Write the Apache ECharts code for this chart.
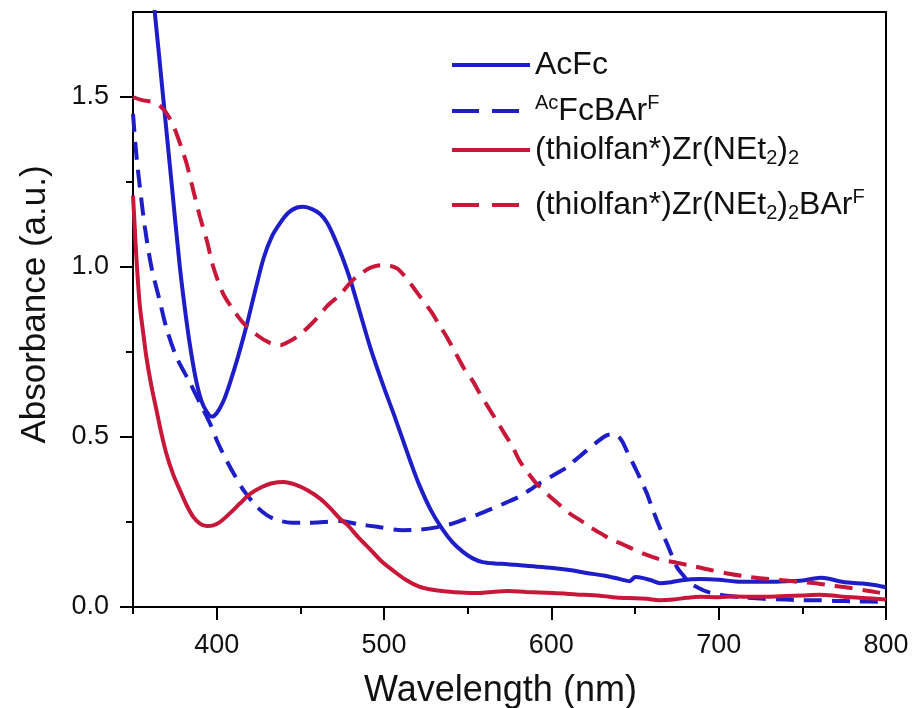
<!DOCTYPE html>
<html>
<head>
<meta charset="utf-8">
<script src="https://cdn.jsdelivr.net/npm/echarts@6/dist/echarts.min.js"></script>
<style>
  html, body { margin: 0; padding: 0; background: #fff; overflow: hidden; }
  #chart { width: 915px; height: 708px; }
</style>
</head>
<body>
<div id="chart"></div>
<script>
// UV-vis absorbance spectra (wavelength in nm, absorbance in a.u.)
const acfcWavelength = [358, 363, 368, 373, 378, 382, 385, 388, 391, 394, 397, 400, 404, 408, 413, 418, 423, 428, 433, 438, 443, 448, 452, 457, 462, 466, 470, 475, 480, 486, 492, 500, 506, 511, 516, 521, 528, 535, 541, 547, 553, 559, 566, 574, 585, 601, 612, 621, 632, 641, 647, 650, 655, 660, 665, 670, 678, 689, 700, 710, 720, 730, 740, 750, 756, 761, 766, 772, 779, 786, 793, 800];
const acfcAbs = [1.98, 1.75, 1.5, 1.25, 1.0, 0.84, 0.74, 0.66, 0.605, 0.575, 0.56, 0.57, 0.605, 0.66, 0.74, 0.83, 0.93, 1.025, 1.09, 1.13, 1.16, 1.175, 1.177, 1.17, 1.155, 1.13, 1.09, 1.03, 0.96, 0.86, 0.76, 0.645, 0.565, 0.495, 0.425, 0.36, 0.285, 0.228, 0.19, 0.163, 0.143, 0.132, 0.128, 0.126, 0.121, 0.115, 0.108, 0.1, 0.092, 0.082, 0.076, 0.088, 0.085, 0.078, 0.07, 0.072, 0.079, 0.082, 0.08, 0.075, 0.074, 0.074, 0.076, 0.078, 0.083, 0.086, 0.083, 0.076, 0.071, 0.069, 0.065, 0.058];

const acfcBarfWavelength = [350, 352, 354, 357, 361, 366, 370, 376, 384, 390, 396, 401, 406, 411, 416, 424, 430, 436, 445, 454, 464, 474, 485, 496, 511, 522, 532, 540, 547, 556, 565, 573, 581, 587, 593, 601, 609, 615, 621, 627, 633, 638, 642, 645, 648, 651, 654, 657, 660, 663, 666, 669, 672, 675, 679, 683, 688, 693, 699, 705, 715, 727, 740, 750, 760, 770, 780, 790, 800];
const acfcBarfAbs = [1.45, 1.33, 1.24, 1.12, 1.0, 0.9, 0.82, 0.735, 0.66, 0.6, 0.54, 0.48, 0.43, 0.385, 0.344, 0.295, 0.27, 0.256, 0.248, 0.248, 0.25, 0.253, 0.243, 0.236, 0.226, 0.228, 0.235, 0.244, 0.256, 0.272, 0.29, 0.307, 0.325, 0.344, 0.364, 0.387, 0.41, 0.435, 0.46, 0.484, 0.505, 0.508, 0.49, 0.46, 0.43, 0.4, 0.368, 0.335, 0.295, 0.256, 0.22, 0.188, 0.152, 0.118, 0.092, 0.07, 0.056, 0.045, 0.038, 0.033, 0.028, 0.024, 0.022, 0.02, 0.02, 0.018, 0.017, 0.016, 0.015];

const zrWavelength = [350, 351, 352, 354, 356, 358, 361, 364, 367, 370, 374, 378, 382, 386, 390, 394, 398, 402, 408, 414, 420, 427, 433, 440, 447, 454, 462, 468, 474, 478, 485, 492, 498, 505, 513, 521, 530, 541, 549, 557, 566, 574, 585, 601, 615, 629, 641, 650, 657, 665, 673, 681, 689, 700, 710, 720, 729, 740, 750, 760, 768, 775, 785, 792, 800];
const zrAbs = [1.21, 1.12, 1.03, 0.89, 0.81, 0.735, 0.65, 0.58, 0.51, 0.45, 0.39, 0.344, 0.3, 0.265, 0.245, 0.238, 0.24, 0.25, 0.276, 0.305, 0.333, 0.353, 0.364, 0.368, 0.36, 0.344, 0.318, 0.29, 0.258, 0.242, 0.203, 0.168, 0.137, 0.109, 0.08, 0.06, 0.05, 0.044, 0.042, 0.041, 0.045, 0.047, 0.044, 0.041, 0.037, 0.033, 0.027, 0.026, 0.024, 0.02, 0.022, 0.027, 0.03, 0.029, 0.031, 0.03, 0.03, 0.032, 0.034, 0.036, 0.034, 0.03, 0.027, 0.025, 0.022];

const zrBarfWavelength = [350, 356, 362, 367, 371, 375, 379, 382, 386, 390, 394, 398, 404, 410, 416, 424, 432, 438, 443, 448, 454, 460, 466, 474, 480, 486, 492, 498, 504, 508, 512, 516, 522, 528, 533, 538, 543, 548, 553, 557, 562, 567, 572, 577, 581, 586, 591, 598, 605, 611, 617, 623, 629, 637, 641, 649, 657, 665, 675, 685, 695, 707, 719, 729, 738, 748, 759, 769, 779, 787, 795, 800];
const zrBarfAbs = [1.5, 1.49, 1.485, 1.47, 1.445, 1.405, 1.35, 1.305, 1.226, 1.148, 1.08, 1.0, 0.92, 0.874, 0.835, 0.8, 0.776, 0.77, 0.78, 0.795, 0.82, 0.85, 0.885, 0.92, 0.955, 0.98, 0.998, 1.005, 1.003, 0.995, 0.975, 0.95, 0.91, 0.87, 0.83, 0.79, 0.745, 0.7, 0.665, 0.63, 0.59, 0.55, 0.51, 0.47, 0.43, 0.395, 0.364, 0.33, 0.3, 0.275, 0.256, 0.235, 0.218, 0.195, 0.188, 0.17, 0.153, 0.14, 0.13, 0.12, 0.109, 0.097, 0.088, 0.083, 0.079, 0.074, 0.069, 0.062, 0.056, 0.049, 0.043, 0.04];

const seriesNames = ['AcFc', 'AcFcBArF', 'ZrNEt2', 'ZrNEt2BArF'];
const xMajorTicks = [400, 500, 600, 700, 800];
const xMinorTicks = [350, 450, 550, 650, 750];
const yMajorTicks = [0, 0.5, 1.0, 1.5];
const yMinorTicks = [0.25, 0.75, 1.25];

const BLUE = '#1e1ec8';
const RED = '#c81738';
const FONT = 'Liberation Sans, Arial, sans-serif';
const CURVE_DASH = [18, 10];
const LEGEND_DASH = [27, 13];

function zip(xs, ys) { return xs.map((x, i) => [x, ys[i]]); }

// legend labels with super/subscripts
const legendLabels = {
  'AcFc': '{m|AcFc}',
  'AcFcBArF': '{sup|Ac}{m|FcBAr}{sup|F}',
  'ZrNEt2': '{m|(thiolfan*)Zr(NEt}{sub|2}{m|)}{sub|2}',
  'ZrNEt2BArF': '{m|(thiolfan*)Zr(NEt}{sub|2}{m|)}{sub|2}{m|BAr}{sup|F}'
};
const legendRich = {
  m: { fontSize: 32, lineHeight: 36, fontFamily: FONT, color: '#111', verticalAlign: 'middle' },
  sup: { fontSize: 20, lineHeight: 36, fontFamily: FONT, color: '#111', verticalAlign: 'top', padding: [0, 0, 14, 0] },
  sub: { fontSize: 20, lineHeight: 36, fontFamily: FONT, color: '#111', verticalAlign: 'bottom', padding: [16, 0, 0, 0] }
};
const legendRows = [49, 93, 132, 187];
const legendDashed = [false, true, false, true];

const chart = echarts.init(document.getElementById('chart'), null, { renderer: 'canvas' });

const tickLabelStyle = { fontSize: 27, fontFamily: FONT, color: '#111' };

chart.setOption({
  animation: false,
  backgroundColor: '#ffffff',
  grid: {
    left: 133, right: 29, top: 12, bottom: 101,
    outerBoundsMode: 'none', containLabel: false,
    show: true, borderColor: '#000', borderWidth: 2, backgroundColor: 'transparent'
  },
  legend: seriesNames.map((name, i) => ({
    data: [name],
    left: 450,
    top: legendRows[i],
    padding: 0,
    itemWidth: 78,
    itemHeight: 14,
    selectedMode: false,
    itemStyle: { opacity: 0 },
    lineStyle: { width: 4, type: legendDashed[i] ? LEGEND_DASH : 'solid' },
    formatter: n => legendLabels[n],
    textStyle: { rich: legendRich, fontSize: 32, fontFamily: FONT }
  })),
  xAxis: [
    {
      type: 'value', min: 350, max: 800, interval: 50,
      name: 'Wavelength (nm)', nameLocation: 'middle', nameGap: 66,
      nameTextStyle: { fontSize: 36, fontFamily: FONT, color: '#111', padding: [0, 18, 0, 0] },
      axisLine: { show: true, lineStyle: { color: '#000', width: 2 } },
      axisTick: { show: true, length: 13, customValues: xMajorTicks, lineStyle: { color: '#000', width: 2 } },
      axisLabel: Object.assign({ margin: 25, customValues: xMajorTicks }, tickLabelStyle),
      splitLine: { show: false }
    },
    {
      type: 'value', min: 350, max: 800, interval: 50, position: 'bottom',
      axisLine: { show: false },
      axisTick: { show: true, length: 7, customValues: xMinorTicks, lineStyle: { color: '#000', width: 2 } },
      axisLabel: { show: false },
      splitLine: { show: false }
    }
  ],
  yAxis: [
    {
      type: 'value', min: 0, max: 1.75, interval: 0.5,
      name: 'Absorbance (a.u.)', nameLocation: 'middle', nameGap: 80,
      nameTextStyle: { fontSize: 35, fontFamily: FONT, color: '#111', padding: [0, 0, 0, 10] },
      axisLine: { show: true, lineStyle: { color: '#000', width: 2 } },
      axisTick: { show: true, length: 13, customValues: yMajorTicks, lineStyle: { color: '#000', width: 2 } },
      axisLabel: Object.assign({ margin: 24, customValues: yMajorTicks, formatter: v => v.toFixed(1) }, tickLabelStyle),
      splitLine: { show: false }
    },
    {
      type: 'value', min: 0, max: 1.75, interval: 0.25, position: 'left',
      axisLine: { show: false },
      axisTick: { show: true, length: 7, customValues: yMinorTicks, lineStyle: { color: '#000', width: 2 } },
      axisLabel: { show: false },
      splitLine: { show: false }
    }
  ],
  series: [
    { name: 'AcFc', data: zip(acfcWavelength, acfcAbs), color: BLUE, type: 'solid' },
    { name: 'AcFcBArF', data: zip(acfcBarfWavelength, acfcBarfAbs), color: BLUE, type: CURVE_DASH },
    { name: 'ZrNEt2', data: zip(zrWavelength, zrAbs), color: RED, type: 'solid' },
    { name: 'ZrNEt2BArF', data: zip(zrBarfWavelength, zrBarfAbs), color: RED, type: CURVE_DASH }
  ].map(s => ({
    type: 'line', name: s.name, data: s.data, xAxisIndex: 0, yAxisIndex: 0,
    smooth: 0.3, symbol: 'none', clip: true, color: s.color,
    lineStyle: { width: 4, color: s.color, type: s.type, cap: 'butt' }
  }))
});
</script>
</body>
</html>
